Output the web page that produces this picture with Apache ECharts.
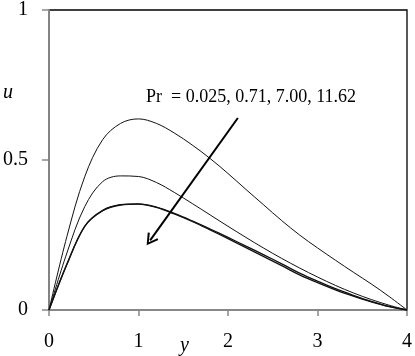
<!DOCTYPE html>
<html>
<head>
<meta charset="utf-8">
<script src="https://cdn.jsdelivr.net/npm/echarts@6/dist/echarts.min.js"></script>
<style>
  html, body { margin: 0; padding: 0; background: #fff; }
  #chart { width: 415px; height: 356px; }
</style>
</head>
<body>
<div id="chart"></div>
<script>
// y positions (x-axis) where curves were sampled
const yPos = [0, 0.2, 0.4, 0.6, 0.8, 1.0, 1.2, 1.4, 1.6, 1.8, 2.0, 2.2, 2.4, 2.6, 2.8, 3.0, 3.2, 3.4, 3.6, 3.8, 4.0]

// u values for each Prandtl number
const uPr0025 = [0, 0.245, 0.445, 0.568, 0.622, 0.637, 0.622, 0.59, 0.55, 0.505, 0.455, 0.402, 0.35, 0.298, 0.25, 0.207, 0.166, 0.126, 0.087, 0.045, 0]
const uPr071 = [0, 0.19, 0.345, 0.428, 0.447, 0.445, 0.425, 0.392, 0.355, 0.317, 0.279, 0.242, 0.206, 0.172, 0.14, 0.11, 0.082, 0.057, 0.035, 0.016, 0]
const uPr700 = [0, 0.153, 0.28, 0.332, 0.351, 0.354, 0.343, 0.322, 0.297, 0.27, 0.242, 0.213, 0.184, 0.154, 0.123, 0.096, 0.071, 0.049, 0.029, 0.012, 0]
const uPr1162 = [0, 0.152, 0.279, 0.331, 0.35, 0.353, 0.342, 0.32, 0.295, 0.267, 0.238, 0.208, 0.178, 0.148, 0.117, 0.091, 0.067, 0.046, 0.027, 0.011, 0]

const xTicks = [0, 1, 2, 3, 4]
const uTicks = [0, 0.5, 1]

// arrow annotation in data coords (start, end)
const arrowFrom = [2.11, 0.64]
const arrowTo = [1.13, 0.232]

const prLabel = 'Pr  = 0.025, 0.71, 7.00, 11.62'

const serif = 'Liberation Serif'

function pairs(vals) {
    return yPos.map((x, i) => [x, vals[i]])
}

function curve(vals, width) {
    return {
        type: 'line',
        data: pairs(vals),
        smooth: 0.35,
        showSymbol: false,
        lineStyle: {color: '#111', width: width},
        silent: true
    }
}

const chart = echarts.init(document.getElementById('chart'), null, {renderer: 'canvas'})

const option = {
    animation: false,
    grid: {
        left: 47,
        right: 7,
        top: 6,
        bottom: 46,
        show: true,
        borderColor: '#000',
        borderWidth: 1.3
    },
    xAxis: {
        type: 'value',
        min: 0,
        max: 4,
        interval: 1,
        axisLine: {show: true, onZero: false, lineStyle: {color: '#888', width: 1.8}},
        axisTick: {show: true, length: 6, lineStyle: {color: '#888', width: 1.5}},
        splitLine: {show: false},
        axisLabel: {
            margin: 22,
            fontFamily: serif,
            fontSize: 20,
            color: '#000',
            formatter: v => xTicks.includes(v) ? String(v) : ''
        }
    },
    yAxis: {
        type: 'value',
        min: 0,
        max: 1,
        interval: 0.5,
        axisLine: {show: true, onZero: false, lineStyle: {color: '#888', width: 1.8}},
        axisTick: {show: true, length: 7, lineStyle: {color: '#888', width: 1.5}},
        splitLine: {show: false},
        axisLabel: {
            margin: 21,
            fontFamily: serif,
            fontSize: 20,
            color: '#000',
            formatter: v => uTicks.includes(v) ? String(v) : ''
        }
    },
    series: [
        curve(uPr0025, 1),
        curve(uPr071, 1),
        curve(uPr700, 1.3),
        curve(uPr1162, 1.3),
        {
            type: 'line',
            data: [],
            markLine: {
                silent: true,
                symbol: ['none', 'path://M5,0 L10,9 L8.6,9.8 L5,3 L1.4,9.8 L0,9 Z'],
                symbolSize: [13, 12],
                label: {show: false},
                lineStyle: {color: '#000', width: 2, type: 'solid'},
                data: [[{coord: arrowFrom}, {coord: arrowTo}]]
            }
        }
    ],
    graphic: [
        {
            type: 'text',
            left: 146,
            top: 88,
            style: {text: prLabel, fontFamily: serif, fontSize: 18, fill: '#000'}
        },
        {
            type: 'text',
            left: 3,
            top: 83,
            style: {text: 'u', fontFamily: serif, fontStyle: 'italic', fontSize: 20, fill: '#000'}
        },
        {
            type: 'text',
            left: 180,
            top: 336,
            style: {text: 'y', fontFamily: serif, fontStyle: 'italic', fontSize: 20, fill: '#000'}
        }
    ]
}

chart.setOption(option)
</script>
</body>
</html>
